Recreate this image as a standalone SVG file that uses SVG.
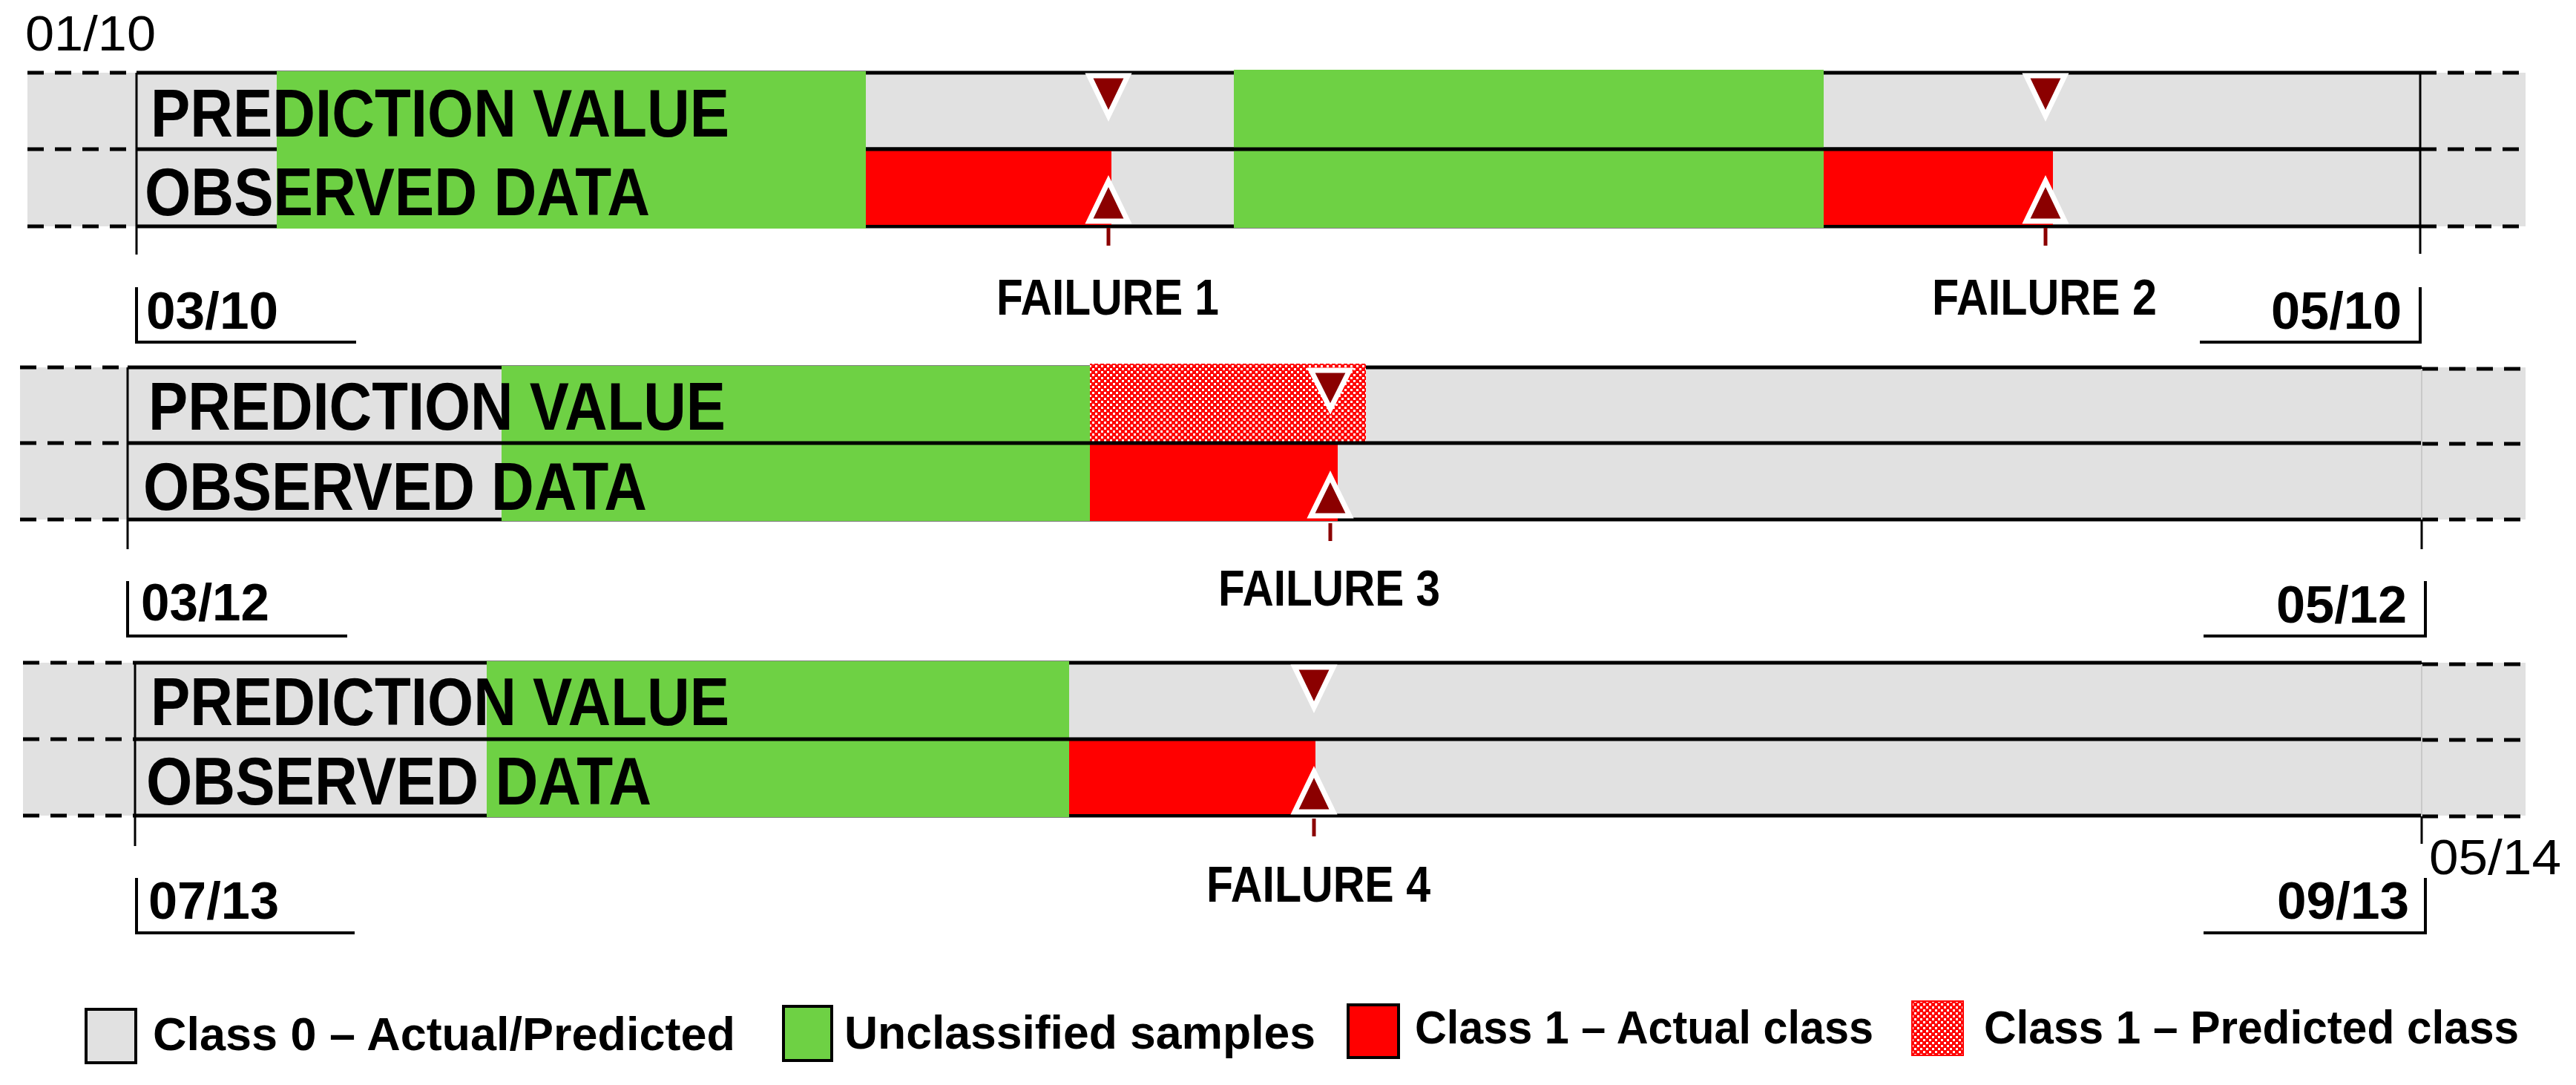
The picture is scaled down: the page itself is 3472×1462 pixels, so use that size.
<svg xmlns="http://www.w3.org/2000/svg" width="3472" height="1462" viewBox="0 0 3472 1462">
<style>
text{font-family:"Liberation Sans",Arial,sans-serif;fill:#000}
.row{font-size:90px;font-weight:bold}
.date{font-size:70px;font-weight:bold}
.date-r{font-size:66px}
.fail{font-size:68px;font-weight:bold}
.leg{font-size:63px;font-weight:bold}
.bg{fill:#e1e1e1}
.green{fill:#6ed144}
.red{fill:#ff0000}
.hatch{fill:url(#hatch)}
.ln{stroke:#000;stroke-width:5;fill:none}
.dash{stroke:#000;stroke-width:5;stroke-dasharray:22 15;fill:none}
.vl{stroke:#000;stroke-width:3;fill:none}
.vlg{stroke:#c8c8c8;stroke-width:2;fill:none}
.br{stroke:#000;stroke-width:4;fill:none}
.tri{fill:#8b0000;stroke:#fff;stroke-width:7}
.tick{stroke:#8b0000;stroke-width:5}
</style>
<defs>
<pattern id="hatch" width="8" height="8" patternUnits="userSpaceOnUse">
<rect width="8" height="8" fill="#ff0000"/>
<rect x="0" y="0" width="3" height="3" fill="#fff"/>
<rect x="4" y="4" width="3" height="3" fill="#fff"/>
</pattern>
</defs>

<text x="34" y="68" class="date-r" textLength="176" lengthAdjust="spacingAndGlyphs">01/10</text>

<g id="panel-1">
<rect class="bg" x="37" y="98" width="3367" height="207"/>
<path class="ln" d="M184,98H3262M184,201H3262M184,305H3262"/>
<path class="dash" d="M37,98H184M37,201H184M37,305H184M3262,98H3409M3262,201H3409M3262,305H3409"/>
<rect class="green" x="373" y="96" width="794" height="212"/>
<rect class="red" x="1167" y="203" width="331" height="100"/>
<rect class="green" x="1663" y="94" width="795" height="213"/>
<rect class="red" x="2458" y="203" width="309" height="100"/>
<path class="ln" d="M1167,201H3262"/>
<path class="vl" d="M184,98V343M3262,98V342"/>
<text x="203" y="184" class="row" textLength="780" lengthAdjust="spacingAndGlyphs">PREDICTION VALUE</text>
<text x="195" y="290" class="row" textLength="681" lengthAdjust="spacingAndGlyphs">OBSERVED DATA</text>
<path class="br" d="M184,387V461H480"/>
<text x="197" y="443" class="date" textLength="178" lengthAdjust="spacingAndGlyphs">03/10</text>
<path class="br" d="M2965,461H3262V387"/>
<text x="3061" y="443" class="date" textLength="176" lengthAdjust="spacingAndGlyphs">05/10</text>
</g>

<g id="panel-2">
<rect class="bg" x="27" y="495" width="3377" height="205"/>
<path class="ln" d="M172,495H3264M172,700H3264"/>
<path class="dash" d="M27,495H172M27,597H172M27,700H172M3264,497H3409M3264,598H3409M3264,700H3409"/>
<rect class="green" x="676" y="493" width="793" height="209"/>
<rect class="hatch" x="1469" y="490" width="372" height="107"/>
<rect class="red" x="1469" y="597" width="334" height="105"/>
<path class="ln" d="M172,597H3264"/>
<path class="vl" d="M172,495V740M3264,700V740"/>
<path class="vlg" d="M3264,497V700"/>
<text x="200" y="579" class="row" textLength="778" lengthAdjust="spacingAndGlyphs">PREDICTION VALUE</text>
<text x="193" y="687" class="row" textLength="679" lengthAdjust="spacingAndGlyphs">OBSERVED DATA</text>
<path class="br" d="M172,783V857H468"/>
<text x="190" y="836" class="date" textLength="173" lengthAdjust="spacingAndGlyphs">03/12</text>
<path class="br" d="M2970,857H3269V783"/>
<text x="3068" y="839" class="date" textLength="176" lengthAdjust="spacingAndGlyphs">05/12</text>
</g>

<g id="panel-3">
<rect class="bg" x="31" y="893" width="3373" height="206"/>
<path class="ln" d="M182,893H3264M182,1099H3264"/>
<path class="dash" d="M31,893H182M31,996H182M31,1099H182M3264,895H3409M3264,997H3409M3264,1100H3409"/>
<rect class="green" x="656" y="891" width="785" height="210"/>
<rect class="red" x="1441" y="998" width="332" height="99"/>
<path class="ln" d="M182,996H3264"/>
<path class="vl" d="M182,893V1140M3264,1100V1137"/>
<path class="vlg" d="M3264,895V1100"/>
<text x="203" y="977" class="row" textLength="780" lengthAdjust="spacingAndGlyphs">PREDICTION VALUE</text>
<text x="197" y="1084" class="row" textLength="681" lengthAdjust="spacingAndGlyphs">OBSERVED DATA</text>
<path class="br" d="M184,1183V1257H478"/>
<text x="200" y="1238" class="date" textLength="176" lengthAdjust="spacingAndGlyphs">07/13</text>
<path class="br" d="M2970,1257H3269V1183"/>
<text x="3069" y="1238" class="date" textLength="178" lengthAdjust="spacingAndGlyphs">09/13</text>
</g>

<text x="3274" y="1178" class="date-r" textLength="178" lengthAdjust="spacingAndGlyphs">05/14</text>

<g id="connectors">
<g id="failure-1">
<polygon class="tri" points="1468,102 1520,102 1494,156"/>
<polygon class="tri" points="1468,298 1520,298 1494,244"/>
<line class="tick" x1="1494" y1="307" x2="1494" y2="331"/>
<text x="1343" y="424" class="fail" textLength="300" lengthAdjust="spacingAndGlyphs">FAILURE 1</text>
</g>
<g id="failure-2">
<polygon class="tri" points="2731,102 2783,102 2757,156"/>
<polygon class="tri" points="2731,298 2783,298 2757,244"/>
<line class="tick" x1="2757" y1="307" x2="2757" y2="331"/>
<text x="2604" y="424" class="fail" textLength="303" lengthAdjust="spacingAndGlyphs">FAILURE 2</text>
</g>
<g id="failure-3">
<polygon class="tri" points="1767,499 1819,499 1793,551"/>
<polygon class="tri" points="1767,695 1819,695 1793,642"/>
<line class="tick" x1="1793" y1="705" x2="1793" y2="729"/>
<text x="1642" y="816" class="fail" textLength="299" lengthAdjust="spacingAndGlyphs">FAILURE 3</text>
</g>
<g id="failure-4">
<polygon class="tri" points="1745,899 1797,899 1771,953"/>
<polygon class="tri" points="1745,1094 1797,1094 1771,1040"/>
<line class="tick" x1="1771" y1="1103" x2="1771" y2="1127"/>
<text x="1626" y="1215" class="fail" textLength="302" lengthAdjust="spacingAndGlyphs">FAILURE 4</text>
</g>
</g>

<g id="legend">
<g id="legend-class0">
<rect x="116" y="1360" width="67" height="72" fill="#e1e1e1" stroke="#000" stroke-width="4"/>
<text x="206" y="1415" class="leg" textLength="785" lengthAdjust="spacingAndGlyphs">Class 0 – Actual/Predicted</text>
</g>
<g id="legend-unclassified">
<rect x="1056" y="1356" width="65" height="73" fill="#6ed144" stroke="#000" stroke-width="4"/>
<text x="1138" y="1413" class="leg" textLength="635" lengthAdjust="spacingAndGlyphs">Unclassified samples</text>
</g>
<g id="legend-class1-actual">
<rect x="1817" y="1354" width="68" height="71" fill="#ff0000" stroke="#000" stroke-width="4"/>
<text x="1907" y="1406" class="leg" textLength="618" lengthAdjust="spacingAndGlyphs">Class 1 – Actual class</text>
</g>
<g id="legend-class1-predicted">
<rect x="2577" y="1349" width="69" height="73" fill="url(#hatch)" stroke="#ff0000" stroke-width="2"/>
<text x="2674" y="1406" class="leg" textLength="721" lengthAdjust="spacingAndGlyphs">Class 1 – Predicted class</text>
</g>
</g>
</svg>
